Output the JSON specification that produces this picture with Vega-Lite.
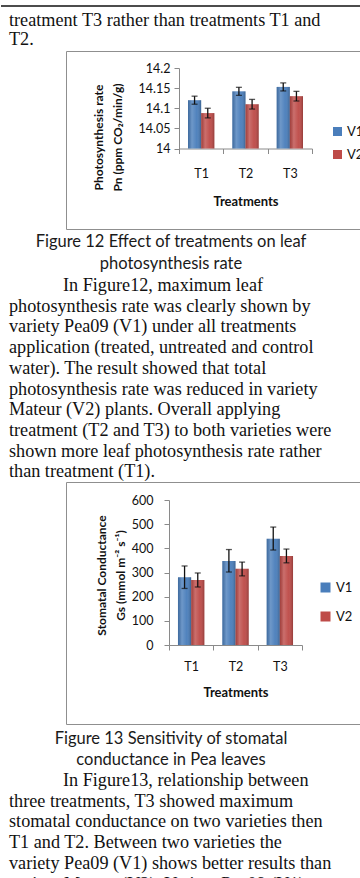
{
  "$schema": "https://vega.github.io/schema/vega-lite/v6.json",
  "background": "white",
  "padding": 0,
  "spacing": 0,
  "resolve": {"scale": {"color": "independent"}, "legend": {"color": "independent"}},
  "config": {
    "view": {"stroke": null},
    "text": {"font": "Liberation Serif"},
    "axis": {"labelFont": "Lato", "titleFont": "Lato", "domainColor": "#8a8a8a", "tickColor": "#8a8a8a", "labelColor": "#111111", "titleColor": "#111111", "grid": false},
    "legend": {"labelFont": "Lato", "labelColor": "#111111"}
  },
  "datasets": {
    "intro": [
      {"line": 1, "text": "treatment T3 rather than treatments T1 and"},
      {"line": 2, "text": "T2."}
    ],
    "page3": [
      {"line": 1, "role": "caption", "text": "Figure 12 Effect of treatments on leaf"},
      {"line": 2, "role": "caption", "text": "photosynthesis rate"},
      {"line": 3, "role": "body", "start": true, "text": "In Figure12, maximum leaf"},
      {"line": 4, "role": "body", "text": "photosynthesis rate was clearly shown by"},
      {"line": 5, "role": "body", "text": "variety Pea09 (V1) under all treatments"},
      {"line": 6, "role": "body", "text": "application (treated, untreated and control"},
      {"line": 7, "role": "body", "text": "water). The result showed that total"},
      {"line": 8, "role": "body", "text": "photosynthesis rate was reduced in variety"},
      {"line": 9, "role": "body", "text": "Mateur (V2) plants. Overall applying"},
      {"line": 10, "role": "body", "text": "treatment (T2 and T3) to both varieties were"},
      {"line": 11, "role": "body", "text": "shown more leaf photosynthesis rate rather"},
      {"line": 12, "role": "body", "text": "than treatment (T1)."}
    ],
    "page5": [
      {"line": 1, "role": "caption", "text": "Figure 13 Sensitivity of stomatal"},
      {"line": 2, "role": "caption", "text": "conductance in Pea leaves"},
      {"line": 3, "role": "body", "start": true, "text": "In Figure13, relationship between"},
      {"line": 4, "role": "body", "text": "three treatments, T3 showed maximum"},
      {"line": 5, "role": "body", "text": "stomatal conductance on two varieties then"},
      {"line": 6, "role": "body", "text": "T1 and T2. Between two varieties the"},
      {"line": 7, "role": "body", "text": "variety Pea09 (V1) shows better results than"},
      {"line": 8, "role": "body", "text": "variety Mateur (V2). Variety Pea09 (V1)"}
    ],
    "pn": [
      {"treatment": "T1", "variety": "V1", "pn": 14.12, "lo": 14.11, "hi": 14.13},
      {"treatment": "T1", "variety": "V2", "pn": 14.088, "lo": 14.076, "hi": 14.1},
      {"treatment": "T2", "variety": "V1", "pn": 14.142, "lo": 14.132, "hi": 14.152},
      {"treatment": "T2", "variety": "V2", "pn": 14.11, "lo": 14.098, "hi": 14.122},
      {"treatment": "T3", "variety": "V1", "pn": 14.153, "lo": 14.143, "hi": 14.163},
      {"treatment": "T3", "variety": "V2", "pn": 14.13, "lo": 14.118, "hi": 14.142}
    ],
    "gs": [
      {"treatment": "T1", "variety": "V1", "gs": 280, "lo": 234, "hi": 327},
      {"treatment": "T1", "variety": "V2", "gs": 269, "lo": 240, "hi": 298},
      {"treatment": "T2", "variety": "V1", "gs": 348, "lo": 302, "hi": 395},
      {"treatment": "T2", "variety": "V2", "gs": 316, "lo": 286, "hi": 343},
      {"treatment": "T3", "variety": "V1", "gs": 440, "lo": 393, "hi": 488},
      {"treatment": "T3", "variety": "V2", "gs": 368, "lo": 340, "hi": 397}
    ]
  },
  "vconcat": [
    {
      "width": 360,
      "height": 50,
      "data": {"name": "intro"},
      "layer": [
        {
          "data": {"values": [{}]},
          "mark": {"type": "rule", "stroke": "#111111", "strokeWidth": 1.6},
          "encoding": {"y": {"value": 6}}
        },
        {
          "mark": {"type": "text", "align": "left", "baseline": "alphabetic", "fontSize": 18.2, "x": 8, "color": "#111111"},
          "encoding": {
            "y": {"field": "line", "type": "quantitative", "scale": {"domain": [1, 2], "range": [26, 45]}, "axis": null},
            "text": {"field": "text"}
          }
        }
      ]
    },
    {
      "spacing": 0,
      "resolve": {"scale": {"color": "independent"}, "legend": {"color": "independent"}},
      "hconcat": [
        {"width": 64, "height": 178, "data": {"values": []}, "mark": "point"},
        {
          "width": 295,
          "height": 178,
          "view": {"stroke": "#8f8f8f", "strokeWidth": 1},
          "data": {"name": "pn"},
          "encoding": {
            "x": {
              "field": "treatment", "type": "nominal",
              "scale": {"range": [113, 246], "paddingInner": 0, "paddingOuter": 0},
              "axis": {"orient": "bottom", "offset": -80.5, "tickBand": "extent", "tickSize": 5, "labelAngle": 0, "labelFontSize": 12.5, "labelPadding": 14, "title": "Treatments", "titleFontSize": 13, "titleFontWeight": "bold", "titlePadding": 15}
            },
            "xOffset": {"field": "variety", "type": "nominal", "scale": {"paddingInner": 0, "paddingOuter": 0.68}}
          },
          "layer": [
            {
              "mark": {"type": "bar"},
              "encoding": {
                "y": {
                  "field": "pn", "type": "quantitative",
                  "scale": {"domain": [14, 14.2], "range": [97.5, 17]},
                  "axis": {"values": [14, 14.05, 14.1, 14.15, 14.2], "format": "~g", "offset": -113, "tickSize": 5, "labelFontSize": 12.5, "labelPadding": 4,
                           "title": ["Photosynthesis rate", "Pn  (ppm CO₂/min/g)"], "titleFontSize": 12, "titleFontWeight": "bold",
                           "titleAngle": -90, "titleAlign": "center", "titleBaseline": "middle", "titleX": -81, "titleY": 86, "titleLineHeight": 19}
                },
                "y2": {"datum": 14},
                "color": {
                  "field": "variety", "type": "nominal",
                  "scale": {"domain": ["V1", "V2"], "range": ["#4A7EBB", "#BE4B48"]},
                  "legend": {"orient": "none", "legendX": 265, "legendY": 74, "title": null, "symbolType": "square", "symbolSize": 81, "labelFontSize": 13, "labelOffset": 3, "rowPadding": 9, "padding": 0}
                }
              }
            },
            {
              "mark": {"type": "bar", "fill": {"gradient": "linear", "x1": 0, "x2": 1, "y1": 0, "y2": 0,
                "stops": [{"offset": 0, "color": "rgba(0,0,0,0.15)"}, {"offset": 0.3, "color": "rgba(255,255,255,0.2)"}, {"offset": 0.65, "color": "rgba(255,255,255,0.04)"}, {"offset": 1, "color": "rgba(0,0,0,0.22)"}]}},
              "encoding": {"y": {"field": "pn", "type": "quantitative"}, "y2": {"datum": 14}}
            },
            {
              "mark": {"type": "rule", "color": "#111111", "strokeWidth": 1.3},
              "encoding": {"y": {"field": "lo", "type": "quantitative"}, "y2": {"field": "hi"}}
            },
            {
              "mark": {"type": "tick", "color": "#111111", "size": 6, "thickness": 1.3},
              "encoding": {"y": {"field": "lo", "type": "quantitative"}}
            },
            {
              "mark": {"type": "tick", "color": "#111111", "size": 6, "thickness": 1.3},
              "encoding": {"y": {"field": "hi", "type": "quantitative"}}
            }
          ]
        }
      ]
    },
    {
      "width": 360,
      "height": 250,
      "data": {"name": "page3"},
      "layer": [
        {
          "transform": [{"filter": "datum.role === 'caption'"}],
          "mark": {"type": "text", "font": "Lato", "fontSize": 16.5, "align": "center", "baseline": "alphabetic", "x": 170, "color": "#1a1a1a"},
          "encoding": {
            "y": {"field": "line", "type": "quantitative", "scale": {"domain": [1, 2], "range": [17, 39]}, "axis": null},
            "text": {"field": "text"}
          }
        },
        {
          "transform": [{"filter": "datum.role === 'body' && !datum.start"}],
          "mark": {"type": "text", "fontSize": 18.2, "align": "left", "baseline": "alphabetic", "x": 8, "color": "#111111"},
          "encoding": {
            "y": {"field": "line", "type": "quantitative", "scale": {"domain": [3, 12], "range": [61, 247.3]}, "axis": null},
            "text": {"field": "text"}
          }
        },
        {
          "transform": [{"filter": "datum.start === true"}],
          "mark": {"type": "text", "fontSize": 18.2, "align": "left", "baseline": "alphabetic", "x": 8, "dx": 54, "color": "#111111"},
          "encoding": {
            "y": {"field": "line", "type": "quantitative", "scale": {"domain": [3, 12], "range": [61, 247.3]}, "axis": null},
            "text": {"field": "text"}
          }
        }
      ],
      "resolve": {"scale": {"y": "independent"}}
    },
    {
      "spacing": 0,
      "resolve": {"scale": {"color": "independent"}, "legend": {"color": "independent"}},
      "hconcat": [
        {"width": 64, "height": 242, "data": {"values": []}, "mark": "point"},
        {
          "width": 295,
          "height": 242,
          "view": {"stroke": "#8f8f8f", "strokeWidth": 1},
          "data": {"name": "gs"},
          "encoding": {
            "x": {
              "field": "treatment", "type": "nominal",
              "scale": {"range": [103, 236], "paddingInner": 0, "paddingOuter": 0},
              "axis": {"orient": "bottom", "offset": -79, "tickBand": "extent", "tickSize": 5, "labelAngle": 0, "labelFontSize": 12.5, "labelPadding": 10, "title": "Treatments", "titleFontSize": 13, "titleFontWeight": "bold", "titlePadding": 14}
            },
            "xOffset": {"field": "variety", "type": "nominal", "scale": {"paddingInner": 0, "paddingOuter": 0.68}}
          },
          "layer": [
            {
              "mark": {"type": "bar"},
              "encoding": {
                "y": {
                  "field": "gs", "type": "quantitative",
                  "scale": {"domain": [0, 600], "range": [163, 18]},
                  "axis": {"values": [0, 100, 200, 300, 400, 500, 600], "offset": -103, "tickSize": 5, "labelFontSize": 12.5, "labelPadding": 11,
                           "title": ["Stomatal Conductance", "Gs  (mmol m⁻² s⁻¹)"], "titleFontSize": 12, "titleFontWeight": "bold",
                           "titleAngle": -90, "titleAlign": "center", "titleBaseline": "middle", "titleX": -68, "titleY": 93, "titleLineHeight": 19}
                },
                "y2": {"datum": 0},
                "color": {
                  "field": "variety", "type": "nominal",
                  "scale": {"domain": ["V1", "V2"], "range": ["#4A7EBB", "#BE4B48"]},
                  "legend": {"orient": "none", "legendX": 253, "legendY": 99, "title": null, "symbolType": "square", "symbolSize": 100, "labelFontSize": 13, "labelOffset": 4, "rowPadding": 15, "padding": 0}
                }
              }
            },
            {
              "mark": {"type": "bar", "fill": {"gradient": "linear", "x1": 0, "x2": 1, "y1": 0, "y2": 0,
                "stops": [{"offset": 0, "color": "rgba(0,0,0,0.15)"}, {"offset": 0.3, "color": "rgba(255,255,255,0.2)"}, {"offset": 0.65, "color": "rgba(255,255,255,0.04)"}, {"offset": 1, "color": "rgba(0,0,0,0.22)"}]}},
              "encoding": {"y": {"field": "gs", "type": "quantitative"}, "y2": {"datum": 0}}
            },
            {
              "mark": {"type": "rule", "color": "#111111", "strokeWidth": 1.3},
              "encoding": {"y": {"field": "lo", "type": "quantitative"}, "y2": {"field": "hi"}}
            },
            {
              "mark": {"type": "tick", "color": "#111111", "size": 6, "thickness": 1.3},
              "encoding": {"y": {"field": "lo", "type": "quantitative"}}
            },
            {
              "mark": {"type": "tick", "color": "#111111", "size": 6, "thickness": 1.3},
              "encoding": {"y": {"field": "hi", "type": "quantitative"}}
            }
          ]
        }
      ]
    },
    {
      "width": 360,
      "height": 158,
      "data": {"name": "page5"},
      "layer": [
        {
          "transform": [{"filter": "datum.role === 'caption'"}],
          "mark": {"type": "text", "font": "Lato", "fontSize": 16.5, "align": "center", "baseline": "alphabetic", "x": 170, "color": "#1a1a1a"},
          "encoding": {
            "y": {"field": "line", "type": "quantitative", "scale": {"domain": [1, 2], "range": [19, 40]}, "axis": null},
            "text": {"field": "text"}
          }
        },
        {
          "transform": [{"filter": "datum.role === 'body' && !datum.start"}],
          "mark": {"type": "text", "fontSize": 18.2, "align": "left", "baseline": "alphabetic", "x": 8, "color": "#111111", "clip": true},
          "encoding": {
            "y": {"field": "line", "type": "quantitative", "scale": {"domain": [3, 8], "range": [61, 164.5]}, "axis": null},
            "text": {"field": "text"}
          }
        },
        {
          "transform": [{"filter": "datum.start === true"}],
          "mark": {"type": "text", "fontSize": 18.2, "align": "left", "baseline": "alphabetic", "x": 8, "dx": 54, "color": "#111111"},
          "encoding": {
            "y": {"field": "line", "type": "quantitative", "scale": {"domain": [3, 8], "range": [61, 164.5]}, "axis": null},
            "text": {"field": "text"}
          }
        }
      ],
      "resolve": {"scale": {"y": "independent"}}
    }
  ]
}
